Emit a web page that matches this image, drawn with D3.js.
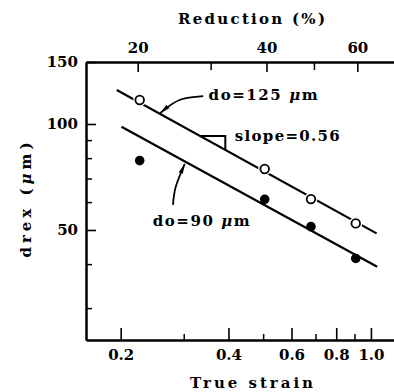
<!DOCTYPE html>
<html>
<head>
<meta charset="utf-8">
<script src="https://cdn.jsdelivr.net/npm/d3@7"></script>
<style>
  body { margin: 0; background: #fff; }
  svg text { font-family: "DejaVu Serif", serif; font-weight: bold; fill: #000; }
</style>
</head>
<body>
<svg id="chart" width="394" height="392"></svg>
<script>
// measured points (true strain vs recrystallized grain size)
const strain = [0.226, 0.505, 0.68, 0.907];
const d125 = [117, 74.5, 61.2, 52.2];
const d90 = [78.7, 61.1, 51.1, 41.5];

// fitted lines, end points
const fitStrain125 = [0.195, 1.037];
const fit125 = [124.9, 48.9];
const fitStrain90 = [0.201, 1.041];
const fit90 = [98.2, 39.3];

// slope triangle on the upper line
const triStrain = [0.334, 0.392];
const triDrex = [92.4, 84.5];

// ticks
const xMajor = [0.2, 0.4, 0.6, 0.8, 1.0];
const xMinor = [0.3, 0.5, 0.7, 0.9];
const yMajor = [50, 100, 150];
const yMinor = [30, 40, 60, 70, 80, 90];
const redMajor = [20, 40, 60];
const redMinor = [30, 50];

// arrows (strain, drex)
const arrow125 = [[0.340, 120], [0.292, 117], [0.258, 107.5]];
const arrow90 = [[0.280, 58.9], [0.285, 66.3], [0.302, 77]];

const svg = d3.select('#chart');
const width = 394;
const height = 392;
const margin = { top: 62, right: 0, bottom: 52, left: 86 };

const x = d3.scaleLog()
    .domain([0.16, 1.16])
    .range([margin.left, width - margin.right]);

const y = d3.scaleLog()
    .domain([24.35, 150])
    .range([height - margin.bottom, margin.top]);

const toStrain = r => -Math.log(1 - r / 100);

// arrow head marker
svg.append('defs').append('marker')
    .attr('id', 'head')
    .attr('viewBox', '0 0 10 6')
    .attr('refX', 10).attr('refY', 3)
    .attr('markerWidth', 10).attr('markerHeight', 6)
    .attr('markerUnits', 'userSpaceOnUse')
    .attr('orient', 'auto')
    .append('path')
    .attr('d', 'M0,0.8 L10,3 L0,5.2 Z')
    .attr('fill', '#000');

const styleAxis = (g, w) => {
    g.select('.domain').attr('stroke', '#000').attr('stroke-width', 2.5);
    g.selectAll('.tick line').attr('stroke', '#000').attr('stroke-width', w);
    g.selectAll('text').attr('font-size', 15).attr('fill', '#000')
        .attr('font-family', '"DejaVu Serif", serif').attr('font-weight', 'bold');
};

// bottom axis
const bottomAxis = svg.append('g')
    .attr('transform', `translate(0,${height - margin.bottom})`)
    .call(d3.axisBottom(x).tickValues(xMajor).tickFormat(d3.format('.1f'))
        .tickSize(-12).tickSizeOuter(0).tickPadding(9));
styleAxis(bottomAxis, 1.6);
svg.append('g')
    .attr('transform', `translate(0,${height - margin.bottom})`)
    .call(d3.axisBottom(x).tickValues(xMinor).tickFormat('').tickSize(-6).tickSizeOuter(0))
    .call(g => { styleAxis(g, 1.5); g.select('.domain').remove(); });

// left axis
const leftAxis = svg.append('g')
    .attr('transform', `translate(${margin.left},0)`)
    .call(d3.axisLeft(y).tickValues(yMajor).tickFormat(d3.format('d'))
        .tickSize(-10).tickSizeOuter(0).tickPadding(8));
styleAxis(leftAxis, 1.6);
svg.append('g')
    .attr('transform', `translate(${margin.left},0)`)
    .call(d3.axisLeft(y).tickValues(yMinor).tickFormat('').tickSize(-6).tickSizeOuter(0))
    .call(g => { styleAxis(g, 1.5); g.select('.domain').remove(); });

// top axis: reduction (%)
const topAxis = svg.append('g')
    .attr('transform', `translate(0,${margin.top})`)
    .call(d3.axisTop(x).tickValues(redMajor.map(toStrain)).tickFormat((d, i) => redMajor[i])
        .tickSize(-10).tickSizeOuter(0).tickPadding(9));
styleAxis(topAxis, 1.6);
svg.append('g')
    .attr('transform', `translate(0,${margin.top})`)
    .call(d3.axisTop(x).tickValues(redMinor.map(toStrain)).tickFormat('').tickSize(-8).tickSizeOuter(0))
    .call(g => { styleAxis(g, 1.5); g.select('.domain').remove(); });

// axis titles
svg.append('text')
    .attr('x', 251.5).attr('y', 24)
    .attr('text-anchor', 'middle')
    .attr('font-size', 15)
    .attr('textLength', 147).attr('lengthAdjust', 'spacing')
    .text('Reduction (%)');

svg.append('text')
    .attr('x', 251.5).attr('y', 388)
    .attr('text-anchor', 'middle')
    .attr('font-size', 15)
    .attr('textLength', 123).attr('lengthAdjust', 'spacing')
    .text('True strain');

// text with an italic mu
const muText = (sel, before, after) => {
    sel.append('tspan').text(before);
    sel.append('tspan').attr('font-style', 'italic').text('μ');
    sel.append('tspan').text(after);
};

svg.append('text')
    .attr('transform', 'rotate(-90)')
    .attr('x', -200).attr('y', 31)
    .attr('text-anchor', 'middle')
    .attr('font-size', 15)
    .attr('textLength', 115).attr('lengthAdjust', 'spacing')
    .call(muText, 'drex (', 'm)');

// fitted lines
const line = d3.line().x(d => x(d[0])).y(d => y(d[1]));
svg.append('path')
    .attr('d', line(d3.zip(fitStrain125, fit125)))
    .attr('fill', 'none').attr('stroke', '#000').attr('stroke-width', 2.2);
svg.append('path')
    .attr('d', line(d3.zip(fitStrain90, fit90)))
    .attr('fill', 'none').attr('stroke', '#000').attr('stroke-width', 2.2);

// slope triangle
svg.append('path')
    .attr('d', `M${x(triStrain[0])},${y(triDrex[0])} H${x(triStrain[1])} V${y(triDrex[1])}`)
    .attr('fill', 'none').attr('stroke', '#000').attr('stroke-width', 2);

// open circles with a white gap around them
svg.append('g').selectAll('circle')
    .data(d3.zip(strain, d125))
    .enter().append('circle')
    .attr('cx', d => x(d[0])).attr('cy', d => y(d[1]))
    .attr('r', 6.5).attr('fill', '#fff');
svg.append('g').selectAll('circle')
    .data(d3.zip(strain, d125))
    .enter().append('circle')
    .attr('cx', d => x(d[0])).attr('cy', d => y(d[1]))
    .attr('r', 4.3).attr('fill', '#fff')
    .attr('stroke', '#000').attr('stroke-width', 1.8);

// filled circles
svg.append('g').selectAll('circle')
    .data(d3.zip(strain, d90))
    .enter().append('circle')
    .attr('cx', d => x(d[0])).attr('cy', d => y(d[1]))
    .attr('r', 4.8).attr('fill', '#000');

// arrows
const curve = d3.line().x(d => x(d[0])).y(d => y(d[1])).curve(d3.curveNatural);
[arrow125, arrow90].forEach(a => {
    svg.append('path')
        .attr('d', curve(a))
        .attr('fill', 'none').attr('stroke', '#000').attr('stroke-width', 1.8)
        .attr('marker-end', 'url(#head)');
});

// annotations
svg.append('text')
    .attr('x', x(0.352)).attr('y', y(117))
    .attr('font-size', 15)
    .attr('textLength', 109).attr('lengthAdjust', 'spacing')
    .call(muText, 'do=125 ', 'm');

svg.append('text')
    .attr('x', x(0.2457)).attr('y', y(51.3))
    .attr('font-size', 15)
    .attr('textLength', 97).attr('lengthAdjust', 'spacing')
    .call(muText, 'do=90 ', 'm');

svg.append('text')
    .attr('x', x(0.4166)).attr('y', y(89.4))
    .attr('font-size', 15)
    .attr('textLength', 105).attr('lengthAdjust', 'spacing')
    .text('slope=0.56');
</script>
</body>
</html>
